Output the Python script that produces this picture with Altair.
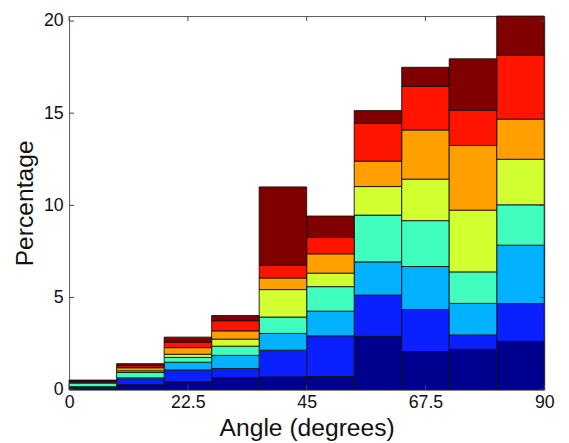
import altair as alt
import pandas as pd

# ---- data ----
bin_starts = [0, 9, 18, 27, 36, 45, 54, 63, 72, 81]
bin_ends = [9, 18, 27, 36, 45, 54, 63, 72, 81, 90]

layer_names = ["g1", "g2", "g3", "g4", "g5", "g6", "g7", "g8"]
layer_colors = ["#00008F", "#0A20FF", "#00B2FF", "#40FFBE", "#D2FF30",
                "#FFA000", "#FF1400", "#800000"]

seg_dark_blue = [0.08, 0.27, 0.43, 0.65, 0.69, 0.71, 2.89, 2.07, 2.19, 2.62]
seg_blue = [0.04, 0.30, 0.64, 0.50, 1.45, 2.21, 2.24, 2.28, 0.78, 2.05]
seg_light_blue = [0.04, 0.07, 0.42, 0.71, 0.91, 1.34, 1.80, 2.33, 1.71, 3.17]
seg_aqua = [0.20, 0.29, 0.26, 0.50, 0.89, 1.33, 2.54, 2.49, 1.71, 2.19]
seg_yellow_green = [0.04, 0.09, 0.17, 0.38, 1.49, 0.73, 1.55, 2.25, 3.35, 2.47]
seg_orange = [0.04, 0.17, 0.36, 0.45, 0.63, 1.05, 1.38, 2.67, 3.51, 2.18]
seg_red = [0.03, 0.11, 0.30, 0.55, 0.69, 0.89, 2.06, 2.37, 1.91, 3.47]
seg_dark_red = [0.05, 0.11, 0.27, 0.28, 4.25, 1.16, 0.68, 1.03, 2.79, 2.12]

series = [seg_dark_blue, seg_blue, seg_light_blue, seg_aqua,
          seg_yellow_green, seg_orange, seg_red, seg_dark_red]

x_tick_values = [0, 22.5, 45, 67.5, 90]
y_tick_values = [0, 5, 10, 15, 20]
y_max = 20.27

rows = []
for k, (name, vals) in enumerate(zip(layer_names, series)):
    for s, e, v in zip(bin_starts, bin_ends, vals):
        rows.append({"start": s, "end": e, "layer": name, "k": k, "value": v})
df = pd.DataFrame(rows)

W, H = 482, 379
FONT = "Liberation Sans"

xscale = alt.Scale(domain=[0, 90], nice=False, zero=False)
yscale = alt.Scale(domain=[0, y_max], nice=False)

xaxis = alt.Axis(values=x_tick_values, format=".3~r", title="Angle (degrees)",
                 grid=False, domain=False, ticks=False, tickSize=0,
                 labelFontSize=18, labelPadding=4, labelColor="#111",
                 labelFlush=False, labelOverlap=False,
                 titleFontSize=25, titleFontWeight="normal", titleColor="#111",
                 titleY=39, titleBaseline="middle")
yaxis = alt.Axis(values=y_tick_values, title="Percentage",
                 grid=False, domain=False, ticks=False, tickSize=0,
                 labelFontSize=18, labelPadding=6, labelColor="#111",
                 labelFlush=False, labelOverlap=False,
                 titleFontSize=25, titleFontWeight="normal", titleColor="#111",
                 titleX=-45, titleBaseline="middle")

bars = alt.Chart(df).transform_stack(
    stack="value", as_=["y0", "y1"], groupby=["start"],
    sort=[alt.SortField("k", order="ascending")],
).mark_bar(stroke="#111111", strokeWidth=0.9).encode(
    x=alt.X("start:Q", scale=xscale, axis=xaxis),
    x2="end:Q",
    y=alt.Y("y0:Q", scale=yscale, axis=yaxis),
    y2="y1:Q",
    color=alt.Color("layer:N", scale=alt.Scale(domain=layer_names, range=layer_colors),
                    legend=None),
)

ydf = pd.DataFrame({"v": y_tick_values})
xdf = pd.DataFrame({"v": x_tick_values})

tick_color = "#444444"
yt_left = alt.Chart(ydf).mark_rule(color=tick_color, strokeWidth=1).encode(
    y=alt.Y("v:Q", scale=yscale, axis=yaxis), x=alt.value(0), x2=alt.value(5))
yt_right = alt.Chart(ydf).mark_rule(color=tick_color, strokeWidth=1).encode(
    y=alt.Y("v:Q", scale=yscale, axis=yaxis), x=alt.value(W - 5), x2=alt.value(W))
xt_bottom = alt.Chart(xdf).mark_rule(color=tick_color, strokeWidth=1).encode(
    x=alt.X("v:Q", scale=xscale, axis=xaxis), y=alt.value(H - 5), y2=alt.value(H))
xt_top = alt.Chart(xdf).mark_rule(color=tick_color, strokeWidth=1).encode(
    x=alt.X("v:Q", scale=xscale, axis=xaxis), y=alt.value(0), y2=alt.value(5))

chart = alt.layer(bars, yt_left, yt_right, xt_bottom, xt_top).properties(
    width=W, height=H,
    autosize=alt.AutoSizeParams(type="none"),
    padding={"left": 62, "top": 5, "right": 17, "bottom": 56},
    background="white",
).configure(font=FONT).configure_view(stroke="#555555", strokeWidth=1)

chart.save("out.html", embed_options={"renderer": "svg", "actions": False})
